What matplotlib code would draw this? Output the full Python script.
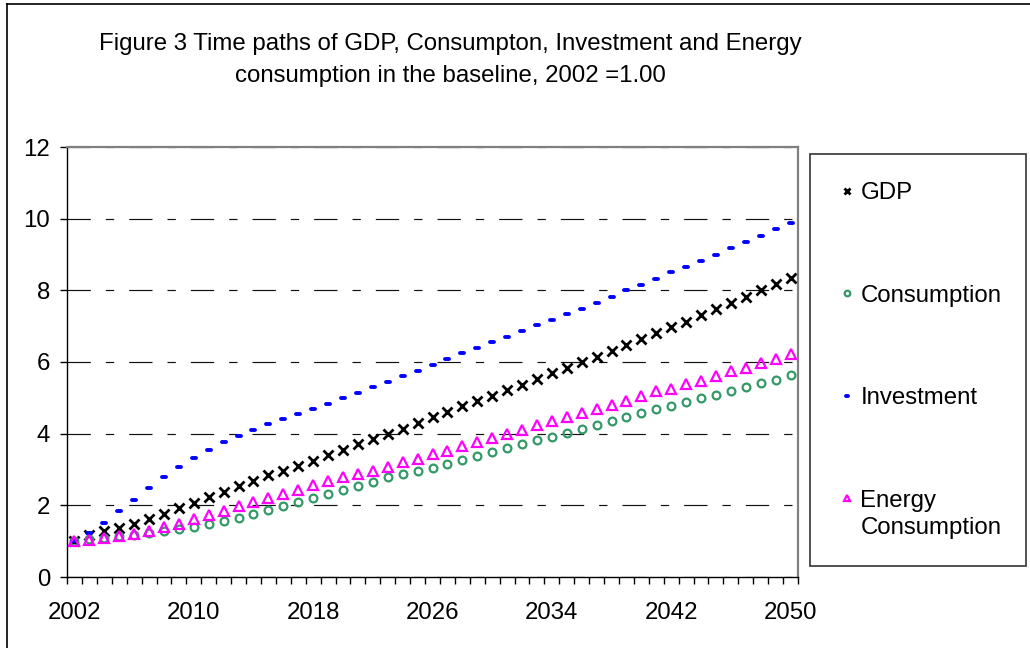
import numpy as np
import matplotlib
matplotlib.use("Agg")
import matplotlib.pyplot as plt
from matplotlib.lines import Line2D
from matplotlib.patches import Rectangle
from matplotlib.markers import MarkerStyle

plt.rcParams['font.family'] = ['Liberation Sans', 'DejaVu Sans']
plt.rcParams['lines.scale_dashes'] = False

# Index values, 2002 = 1.00
years = list(range(2002, 2051))

gdp = [1.00, 1.17, 1.27, 1.37, 1.47, 1.61, 1.75, 1.92, 2.06, 2.22,
       2.37, 2.53, 2.69, 2.85, 2.97, 3.11, 3.25, 3.41, 3.55, 3.71,
       3.85, 4.00, 4.14, 4.30, 4.46, 4.61, 4.76, 4.90, 5.06, 5.21,
       5.37, 5.52, 5.68, 5.84, 5.99, 6.15, 6.32, 6.48, 6.65, 6.82,
       6.97, 7.13, 7.30, 7.48, 7.65, 7.82, 8.00, 8.17, 8.34]

consumption = [1.00, 1.06, 1.10, 1.14, 1.18, 1.22, 1.27, 1.33, 1.40, 1.48,
               1.57, 1.66, 1.76, 1.87, 1.98, 2.09, 2.20, 2.31, 2.42, 2.53,
               2.65, 2.78, 2.87, 2.97, 3.05, 3.16, 3.26, 3.37, 3.48, 3.59,
               3.70, 3.81, 3.92, 4.02, 4.13, 4.24, 4.35, 4.46, 4.57, 4.68,
               4.78, 4.89, 5.00, 5.09, 5.20, 5.31, 5.42, 5.51, 5.63]

investment = [1.00, 1.22, 1.52, 1.84, 2.15, 2.47, 2.78, 3.07, 3.32, 3.55,
              3.76, 3.94, 4.10, 4.26, 4.41, 4.55, 4.70, 4.84, 4.99, 5.14,
              5.30, 5.45, 5.60, 5.76, 5.91, 6.08, 6.24, 6.40, 6.55, 6.70,
              6.86, 7.02, 7.18, 7.33, 7.49, 7.65, 7.82, 8.00, 8.15, 8.32,
              8.50, 8.65, 8.82, 9.00, 9.17, 9.34, 9.52, 9.70, 9.88]

energy = [1.00, 1.04, 1.09, 1.14, 1.21, 1.29, 1.39, 1.49, 1.61, 1.72,
          1.85, 1.98, 2.10, 2.21, 2.33, 2.44, 2.56, 2.67, 2.79, 2.88,
          2.97, 3.07, 3.20, 3.30, 3.43, 3.53, 3.65, 3.77, 3.88, 4.00,
          4.11, 4.23, 4.34, 4.46, 4.57, 4.69, 4.81, 4.92, 5.04, 5.18,
          5.25, 5.39, 5.48, 5.60, 5.74, 5.84, 5.98, 6.09, 6.23]

series_labels = ['GDP', 'Consumption', 'Investment', 'Energy Consumption']
year_labels = [2002, 2010, 2018, 2026, 2034, 2042, 2050]
y_ticks = [0, 2, 4, 6, 8, 10, 12]

title_line1 = 'Figure 3 Time paths of GDP, Consumpton, Investment and Energy'
title_line2 = 'consumption in the baseline, 2002 =1.00'

W, H = 1030, 648
FS = 17.3

fig = plt.figure(figsize=(W / 100, H / 100), dpi=100)
fig.patch.set_facecolor('white')

ax = fig.add_axes([67 / W, 1 - 577 / H, (798 - 67) / W, (577 - 147) / H])

styles = [
    dict(marker='x', color='black', ms=6.9, mew=2.0, mfc='none'),
    dict(marker='o', color='#339966', ms=5.6, mew=1.6, mfc='none'),
    dict(marker=MarkerStyle('_', capstyle='round'), color='#0000FF', ms=2.9, mew=2.8),
    dict(marker='^', color='#FF00FF', ms=6.7, mew=1.6, mfc='none'),
]

handles = []
for vals, lab, st in zip([gdp, consumption, investment, energy], series_labels, styles):
    h, = ax.plot(years, vals, linestyle='none', marker=st['marker'],
                 color=st['color'], markeredgecolor=st['color'],
                 markerfacecolor=st.get('mfc', st['color']),
                 markersize=st['ms'], markeredgewidth=st['mew'],
                 label=lab, zorder=3)
    handles.append(h)

ax.set_xlim(2001.5, 2050.5)
ax.set_ylim(0, 12)

ax.set_xticks(year_labels)
ax.set_xticklabels([str(y) for y in year_labels], fontsize=FS)
ax.set_xticks(np.arange(2001.5, 2051.0, 1.0), minor=True)
ax.tick_params(axis='x', which='major', length=0, pad=18)
ax.tick_params(axis='x', which='minor', direction='out', length=5, width=1, color='black')

ax.set_yticks(y_ticks)
ax.set_yticklabels([str(v) for v in y_ticks], fontsize=FS)
ax.tick_params(axis='y', which='major', direction='out', length=5, width=1, pad=7, color='black')

ax.set_axisbelow(True)
ax.yaxis.grid(True, color='#111111', linewidth=0.85,
              linestyle=(0, (16.8, 10.8, 6.0, 10.8)))

for side in ('top', 'right'):
    ax.spines[side].set_color('#808080')
    ax.spines[side].set_linewidth(1.6)
for side in ('left', 'bottom'):
    ax.spines[side].set_color('black')
    ax.spines[side].set_linewidth(1.0)

# Title
fig.text(450 / W, 1 - 44 / H, title_line1, ha='center', va='center', fontsize=FS)
fig.text(450 / W, 1 - 76 / H, title_line2, ha='center', va='center', fontsize=FS)

# Outer chart border (left and top edges)
fig.add_artist(Line2D([7 / W, 7 / W], [0, 1 - 4 / H], color='black', linewidth=1.2,
                      transform=fig.transFigure))
fig.add_artist(Line2D([7 / W, 1], [1 - 4 / H, 1 - 4 / H], color='black', linewidth=1.2,
                      transform=fig.transFigure))

# Legend frame and entries; the last label wraps onto a second line below its marker
fig.add_artist(Rectangle((810 / W, 1 - 566 / H), (1026 - 810) / W, (566 - 154) / H,
                         fill=False, edgecolor='#333333', linewidth=1.2,
                         transform=fig.transFigure))
first_lines = [lab.split(' ')[0] if i == 3 else lab for i, lab in enumerate(series_labels)]
leg = fig.legend(handles=handles, labels=first_lines, loc='center left',
                 bbox_to_anchor=(840 / W, 1 - 347 / H), frameon=False, fontsize=FS,
                 markerscale=0.72, handlelength=0.6, handletextpad=0.25,
                 labelspacing=3.35, borderpad=0, borderaxespad=0)

fig.canvas.draw()
first_bb = leg.get_texts()[3].get_window_extent()
fig.text(first_bb.x0 / W, 1 - 528 / H, series_labels[3].split(' ', 1)[1],
         ha='left', va='center', fontsize=FS)

fig.savefig('out.png', dpi=100, facecolor='white')
